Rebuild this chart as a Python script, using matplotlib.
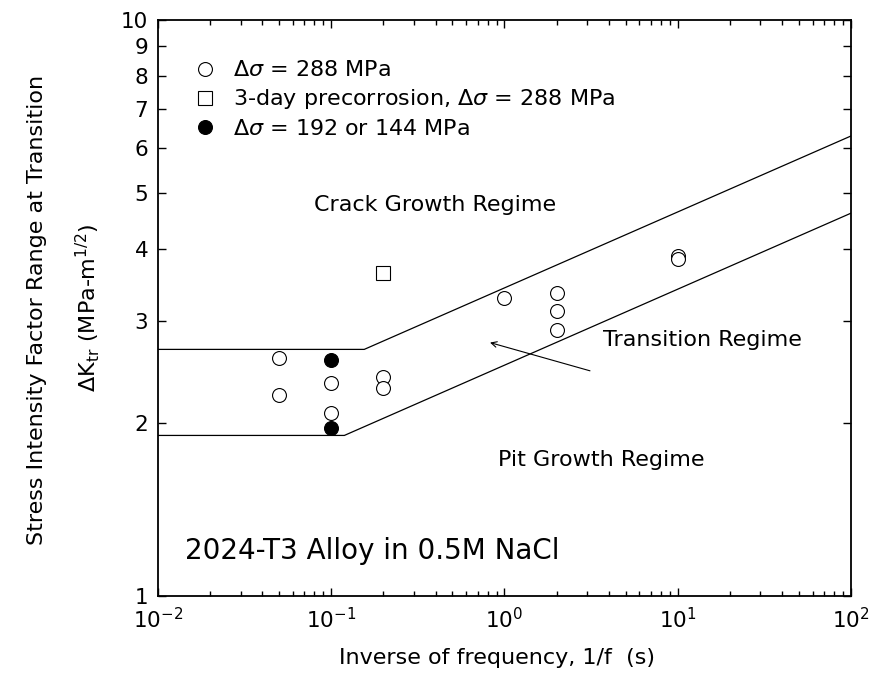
import numpy as np
import matplotlib
matplotlib.use("Agg")
import matplotlib.pyplot as plt
from matplotlib.ticker import FixedLocator, NullFormatter, LogLocator

plt.rcParams['font.family'] = ['DejaVu Sans']
plt.rcParams['mathtext.fontset'] = 'dejavusans'

# data
# open circles, delta sigma = 288 MPa
open_x = [0.05, 0.05, 0.1, 0.1, 0.2, 0.2, 1.0, 2.0, 2.0, 2.0, 10.0, 10.0]
open_y = [2.59, 2.23, 2.34, 2.08, 2.40, 2.30, 3.29, 3.36, 3.12, 2.90, 3.89, 3.85]
# square, 3-day precorrosion
sq_x = [0.2]
sq_y = [3.63]
# filled circles, 192 or 144 MPa
fill_x = [0.1, 0.1]
fill_y = [2.57, 1.955]

# regime boundaries
upper_x = [0.01, 0.155, 100]
upper_y = [2.68, 2.68, 6.29]
lower_x = [0.01, 0.119, 100]
lower_y = [1.9, 1.9, 4.62]

fig = plt.figure(figsize=(8.7, 6.87), dpi=100)
ax = fig.add_axes([158/870, 1-596/687, 693/870, 576/687])

ax.plot(upper_x, upper_y, color='black', lw=0.9)
ax.plot(lower_x, lower_y, color='black', lw=0.9)

ax.plot(open_x, open_y, 'o', mfc='white', mec='black', ms=10, mew=0.8, ls='none',
        label=r'$\mathit{\Delta\sigma}$ = 288 MPa')
ax.plot(sq_x, sq_y, 's', mfc='white', mec='black', ms=9.5, mew=0.8, ls='none',
        label=r'3-day precorrosion, $\mathit{\Delta\sigma}$ = 288 MPa')
ax.plot(fill_x, fill_y, 'o', mfc='black', mec='black', ms=10, mew=0.8, ls='none',
        label=r'$\mathit{\Delta\sigma}$ = 192 or 144 MPa')

ax.set_xscale('log')
ax.set_yscale('log')
ax.set_xlim(0.01, 100)
ax.set_ylim(1, 10)

yt = [1, 2, 3, 4, 5, 6, 7, 8, 9, 10]
ax.yaxis.set_major_locator(FixedLocator(yt))
ax.set_yticklabels([str(v) for v in yt])
ax.yaxis.set_minor_locator(FixedLocator([]))
ax.xaxis.set_major_locator(LogLocator(base=10, numticks=10))
ax.xaxis.set_minor_locator(LogLocator(base=10, subs=np.arange(2, 10), numticks=10))
ax.xaxis.set_minor_formatter(NullFormatter())

ax.tick_params(which='both', direction='in', top=True, right=True, width=1.0)
ax.tick_params(which='major', length=6)
ax.tick_params(which='minor', length=3.5)
ax.tick_params(axis='y', pad=7, labelsize=15.5)
ax.tick_params(axis='x', pad=8, labelsize=15.5)
for s in ax.spines.values():
    s.set_linewidth(1.3)

leg = ax.legend(loc='upper left', bbox_to_anchor=(0.053, 0.93), frameon=False,
                borderpad=0, borderaxespad=0, handlelength=0.92, handletextpad=0.78,
                labelspacing=0.32, fontsize=16, numpoints=1)

ax.text(0.40, 0.679, 'Crack Growth Regime', transform=ax.transAxes,
        ha='center', va='center', fontsize=16)
ax.text(0.642, 0.444, 'Transition Regime', transform=ax.transAxes,
        ha='left', va='center', fontsize=16)
ax.text(0.639, 0.236, 'Pit Growth Regime', transform=ax.transAxes,
        ha='center', va='center', fontsize=16)
ax.text(0.039, 0.0637, '2024-T3 Alloy in 0.5M NaCl', transform=ax.transAxes,
        ha='left', va='baseline', fontsize=20)
ax.annotate('', xy=(0.825, 2.754), xytext=(3.115, 2.46),
            arrowprops=dict(arrowstyle='->', color='black', lw=0.8,
                            shrinkA=0, shrinkB=0))

fig.text(37/870, 1-310/687, 'Stress Intensity Factor Range at Transition',
         rotation=90, ha='center', va='center', fontsize=16)
fig.text(88/870, 1-308/687, r'$\mathit{\Delta}$K$_{\rm tr}$ (MPa-m$^{1/2}$)',
         rotation=90, ha='center', va='center', fontsize=16)
fig.text(497/870, 1-658/687, 'Inverse of frequency, 1/f  (s)',
         ha='center', va='center', fontsize=16)

fig.savefig('out.png', dpi=100)
